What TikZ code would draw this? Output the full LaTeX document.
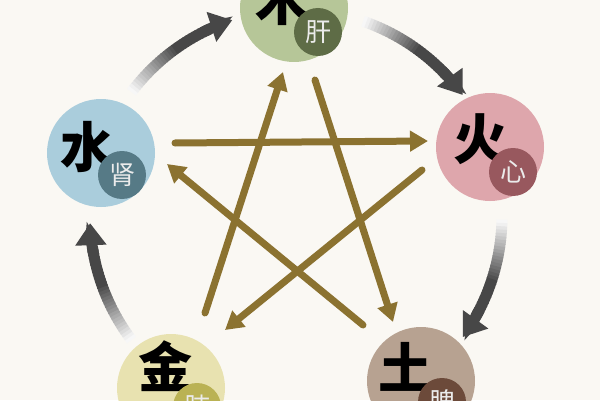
\documentclass[tikz,border=0pt]{standalone}
\usepackage{fontspec}
\newfontfamily\cjk{Noto Sans CJK SC}
\usepackage{xcolor}
\usepackage{tikz}
\usetikzlibrary{arrows.meta, positioning, calc}
\definecolor{paper}{RGB}{250,248,243}
\definecolor{kegold}{RGB}{139,114,48}
\definecolor{muc}{RGB}{182,198,152}
\definecolor{mud}{RGB}{94,108,70}
\definecolor{huoc}{RGB}{222,166,172}
\definecolor{huod}{RGB}{152,88,94}
\definecolor{tuc}{RGB}{183,162,145}
\definecolor{tud}{RGB}{108,74,58}
\definecolor{jinc}{RGB}{232,226,176}
\definecolor{jind}{RGB}{186,178,84}
\definecolor{shuic}{RGB}{170,205,220}
\definecolor{shuid}{RGB}{86,122,134}

\tikzset{
  element/.style={circle, minimum size=108pt, inner sep=0pt},
  organ/.style={circle, minimum size=48pt, inner sep=0pt, text=white!92!black,
    font=\cjk\fontsize{26}{26}\selectfont},
  glyph/.style={inner sep=0pt, font=\cjk\bfseries\fontsize{54}{54}\selectfont},
  ke/.style={line width=7pt, draw=kegold, line cap=round,
    -{Triangle[length=18pt,width=20pt]}},
}

\begin{document}
\begin{tikzpicture}[x=1pt, y=1pt]
    \useasboundingbox (0,0) rectangle (600,400);
    \clip (0,0) rectangle (600,400);
    \fill [paper] (0,0) rectangle (600,400);

    \coordinate (c) at (296,184);

    % outer cycle
    \foreach \s/\e in {143/108, 71/36, -1/-36, -143/-178} {
      \foreach \i in {0,...,29} {
        \pgfmathsetmacro{\a}{\s+(\e+7-\s)*\i/30}
        \pgfmathsetmacro{\b}{\s+(\e+7-\s)*(\i+1.3)/30}
        \pgfmathtruncatemacro{\k}{min(72, 3+69*\i/18)}
        \draw [line width=11pt, draw=black!\k] ($(c)+(\a:206)$) arc [start angle=\a, end angle=\b, radius=206];
      }
      \draw [line width=11pt, draw=black!72, -{Triangle[length=22pt,width=30pt]}]
        ($(c)+(\e+9:206)$) arc [start angle=\e+9, end angle=\e, radius=206];
    }

    % elements
    \node[element, fill=muc] (mu) at (294,392) {};
    \node[element, fill=huoc] (huo) at (490,253) {};
    \node[element, fill=tuc] (tu) at (421,19) {};
    \node[element, fill=jinc] (jin) at (171,12) {};
    \node[element, fill=shuic] (shui) at (101,247) {};

    \node[glyph] (muz) at (282,400) {木};
    \node[glyph] (huoz) at (480,261) {火};
    \node[glyph] (tuz) at (405,33) {土};
    \node[glyph] (jinz) at (165,34) {金};
    \node[glyph] (shuiz) at (87,253) {水};

    \node[organ, fill=mud] (gan) at (318,368) {肝};
    \node[organ, fill=huod] (xin) at (513,228) {心};
    \node[organ, fill=tud] (pi) at (442,-2) {脾};
    \node[organ, fill=jind] (fei) at (197,-7) {肺};
    \node[organ, fill=shuid] (shen) at (122,225) {肾};

    % star
    \coordinate (shui-o) at (175,257);
    \coordinate (huo-i) at (428,259);
    \coordinate (jin-o) at (205,87);
    \coordinate (mu-i) at (283,328);
    \coordinate (mu-o) at (315,320);
    \coordinate (tu-i) at (393,78);
    \coordinate (huo-o) at (422,230);
    \coordinate (jin-i) at (225,70);
    \coordinate (tu-o) at (363,75);
    \coordinate (shui-i) at (167,236);

    \draw [ke] (shui-o) -- (huo-i);
    \draw [ke] (jin-o) -- (mu-i);
    \draw [ke] (mu-o) -- (tu-i);
    \draw [ke] (huo-o) -- (jin-i);
    \draw [ke] (tu-o) -- (shui-i);
  \end{tikzpicture}
\end{document}
